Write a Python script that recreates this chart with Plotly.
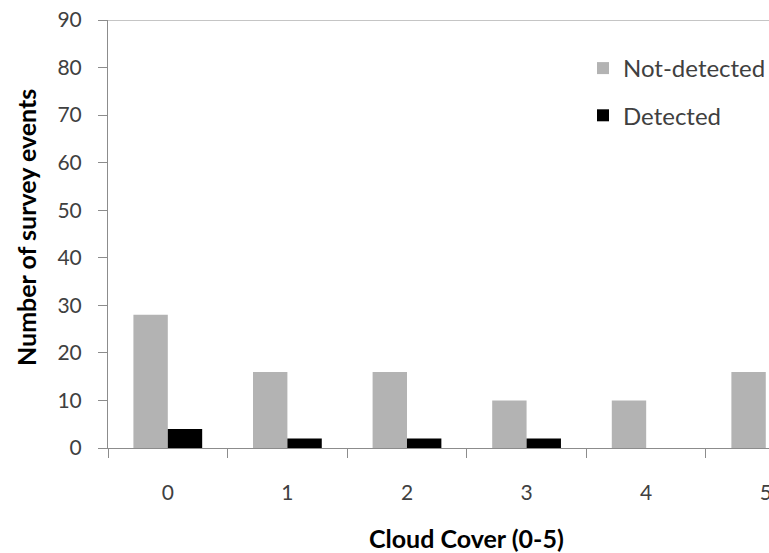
import plotly.graph_objects as go

categories = ["0", "1", "2", "3", "4", "5"]
not_detected = [28, 16, 16, 10, 10, 16]
detected = [4, 2, 2, 2, 0, 0]
y_ticks = [0, 10, 20, 30, 40, 50, 60, 70, 80, 90]

FONT = "Lato"
L, R, T, B = 108, 0, 20, 105
W, H = 769, 553
pw = W - L - R
ph = H - T - B
def px_x(p): return (p - L) / pw
def px_y(p): return (H - B - p) / ph

fig = go.Figure()
fig.add_trace(go.Bar(x=categories, y=not_detected, name="Not-detected",
                     marker=dict(color="#b3b3b3", line=dict(width=0)),
                     legendgroup="a"))
fig.add_trace(go.Bar(x=categories, y=detected, name="Detected",
                     marker=dict(color="#000000", line=dict(width=0)),
                     legendgroup="b"))

fig.update_layout(
    width=W, height=H,
    margin=dict(l=L, r=R, t=T, b=B, autoexpand=False),
    paper_bgcolor="white", plot_bgcolor="white",
    barmode="group", bargap=0.425, bargroupgap=0,
    font=dict(family=FONT, size=21, color="#404040"),
    showlegend=True,
    legend=dict(x=px_x(583), xref="paper", y=px_y(46), yanchor="top", bgcolor="rgba(0,0,0,0)",
                traceorder="grouped", tracegroupgap=13,
                font=dict(family=FONT, size=24, color="#404040"),
                itemwidth=30),
    xaxis=dict(type="category", range=[-0.5, 5.027], automargin=False,
               showline=True, linecolor="#8c8c8c", linewidth=1, mirror=False,
               ticks="outside", tickson="boundaries", ticklen=9, tickcolor="#8c8c8c",
               showgrid=False, ticklabelstandoff=26),
    yaxis=dict(range=[0, 90], tickvals=y_ticks, automargin=False,
               showline=True, linecolor="#8c8c8c", linewidth=1,
               ticks="outside", ticklen=9, tickcolor="#8c8c8c",
               showgrid=False, zeroline=False, ticklabelstandoff=12),
    annotations=[
        dict(text="<b>Cloud Cover (0-5)</b>", x=px_x(466), y=px_y(538), xref="paper", yref="paper",
             xanchor="center", yanchor="middle",
             showarrow=False, font=dict(family=FONT, size=25, color="#000000")),
        dict(text="<b>Number of survey events</b>", x=px_x(26), y=px_y(228), xref="paper", yref="paper",
             xanchor="center", yanchor="middle",
             textangle=-90, showarrow=False, font=dict(family=FONT, size=25, color="#000000")),
    ],
    shapes=[dict(type="line", xref="paper", yref="y", x0=0, x1=1, y0=90, y1=90,
                 line=dict(color="#8c8c8c", width=1))],
)

fig.write_html("out.html", config={"displayModeBar": False},
               post_script="document.body.style.margin='0';")
